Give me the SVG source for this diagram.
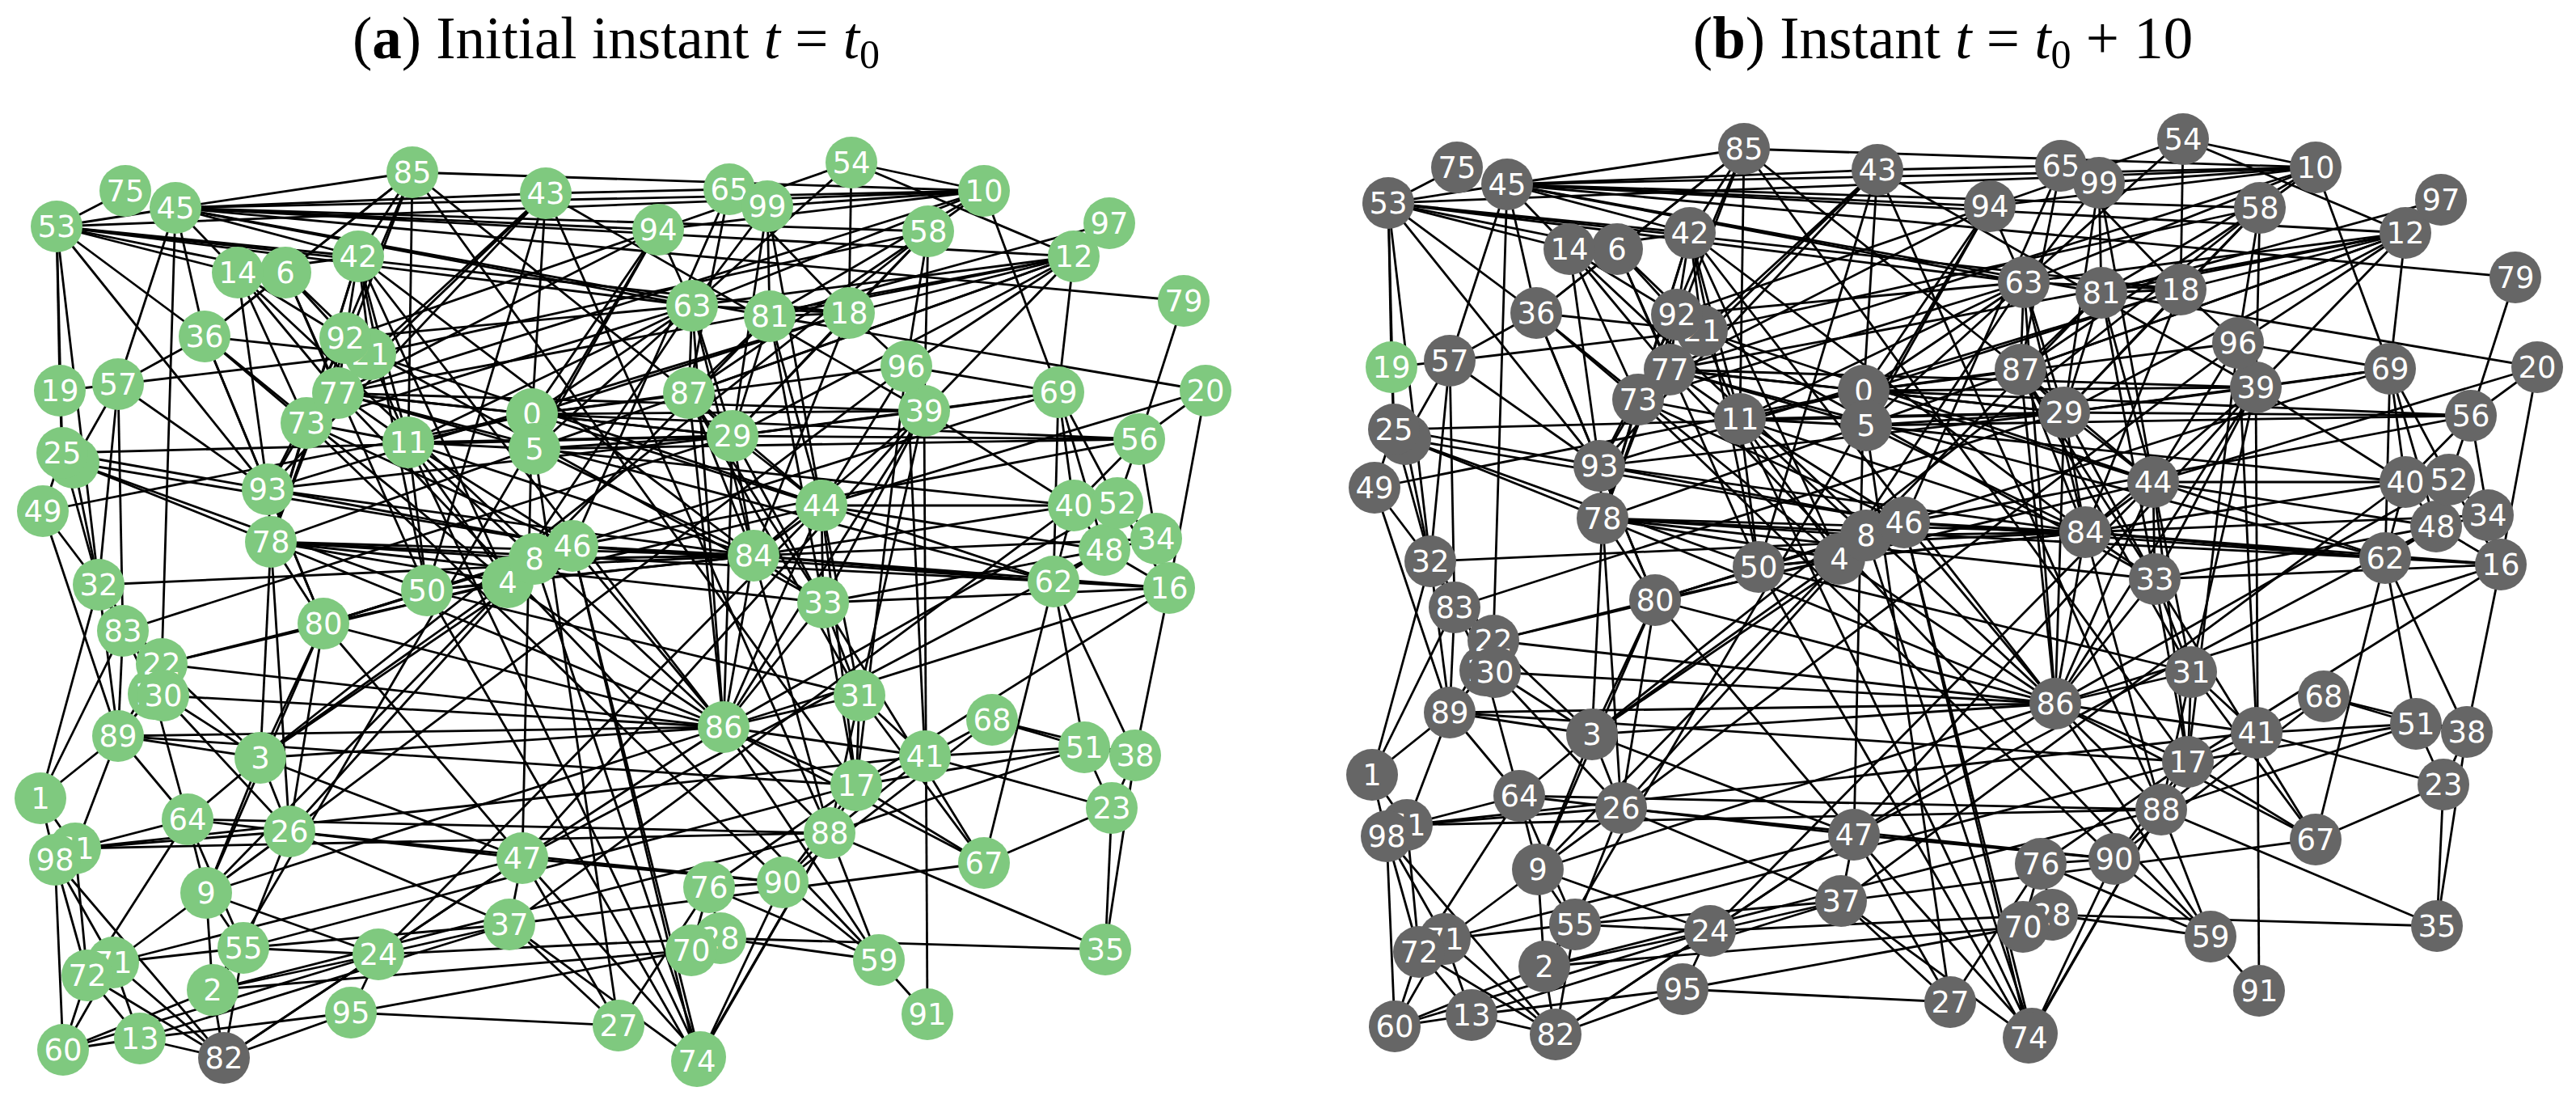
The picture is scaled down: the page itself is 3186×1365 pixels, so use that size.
<svg xmlns="http://www.w3.org/2000/svg" xmlns:xlink="http://www.w3.org/1999/xlink" width="3186" height="1365" viewBox="0 0 3186 1365">
<style>
.ed path{stroke:#000;stroke-width:2.8;fill:none}
#nodes-a circle{fill:#7fc97f}
#nodes-b circle{fill:#666666}
#nodes-a #a82 circle{fill:#666666}
#nodes-b #b19 circle{fill:#7fc97f}
.nodes text{font-family:"DejaVu Sans",sans-serif;font-size:37px;fill:#ffffff;text-anchor:middle}
.title{font-family:"Liberation Serif","Times New Roman",serif;font-size:73px;fill:#000;text-anchor:middle}
</style>
<rect width="3186" height="1365" fill="#ffffff"/>
<text class="title" x="762" y="72">(<tspan font-weight="bold">a</tspan>) Initial instant <tspan font-style="italic">t</tspan> = <tspan font-style="italic">t</tspan><tspan font-size="50" dy="12">0</tspan></text>
<text class="title" x="2403" y="72">(<tspan font-weight="bold">b</tspan>) Instant <tspan font-style="italic">t</tspan> = <tspan font-style="italic">t</tspan><tspan font-size="50" dy="12">0</tspan><tspan dy="-12"> + 10</tspan></text>
<g id="panel-a">
<g id="edges-a" class="ed">
<path d="M70 280L74 483"/><path d="M70 280L217 257"/><path d="M70 280L155 236"/><path d="M70 280L294 337"/><path d="M70 280L331 605"/><path d="M70 280L122 723"/><path d="M70 280L856 378"/><path d="M70 280L1050 387"/><path d="M70 280L1217 236"/><path d="M70 280L253 416"/><path d="M70 280L443 317"/><path d="M70 280L353 337"/><path d="M70 280L77 560"/>
<path d="M217 257L510 213"/><path d="M217 257L200 821"/><path d="M217 257L146 475"/><path d="M217 257L952 391"/><path d="M217 257L1148 286"/><path d="M217 257L294 337"/><path d="M217 257L1328 317"/><path d="M217 257L675 239"/><path d="M217 257L253 416"/><path d="M217 257L814 284"/><path d="M217 257L443 317"/><path d="M217 257L856 378"/><path d="M217 257L1464 372"/><path d="M217 257L1217 236"/>
<path d="M510 213L505 547"/><path d="M510 213L353 337"/><path d="M510 213L443 317"/><path d="M510 213L852 486"/><path d="M510 213L335 670"/><path d="M510 213L253 416"/><path d="M510 213L379 523"/><path d="M510 213L1059 971"/><path d="M510 213L1217 236"/>
<path d="M675 239L902 234"/><path d="M675 239L331 605"/><path d="M675 239L458 438"/><path d="M675 239L528 730"/><path d="M675 239L658 512"/><path d="M675 239L379 523"/><path d="M675 239L1143 508"/><path d="M675 239L1026 1030"/>
<path d="M902 234L949 255"/><path d="M902 234L852 486"/><path d="M902 234L1050 387"/><path d="M902 234L708 675"/>
<path d="M949 255L1217 236"/><path d="M949 255L906 539"/><path d="M949 255L952 391"/><path d="M949 255L856 378"/><path d="M949 255L1016 625"/>
<path d="M1053 201L1050 387"/><path d="M1053 201L1328 317"/><path d="M1053 201L1217 236"/><path d="M1053 201L856 378"/><path d="M1053 201L814 284"/>
<path d="M1217 236L1309 485"/><path d="M1217 236L1148 286"/><path d="M1217 236L856 378"/><path d="M1217 236L952 391"/><path d="M1217 236L814 284"/><path d="M1217 236L418 486"/>
<path d="M1148 286L1121 453"/><path d="M1148 286L1050 387"/><path d="M1148 286L1143 508"/><path d="M1148 286L458 438"/><path d="M1148 286L852 486"/><path d="M1148 286L906 539"/><path d="M1148 286L322 937"/>
<path d="M1328 317L1309 485"/><path d="M1328 317L1050 387"/><path d="M1328 317L856 378"/><path d="M1328 317L952 391"/><path d="M1328 317L1121 453"/><path d="M1328 317L1143 508"/><path d="M1328 317L852 486"/><path d="M1328 317L418 486"/><path d="M1328 317L906 539"/><path d="M1328 317L335 670"/>
<path d="M1372 276L952 391"/><path d="M1464 372L1409 543"/>
<path d="M1491 483L1409 543"/><path d="M1491 483L1446 727"/><path d="M1491 483L1016 625"/><path d="M1491 483L952 391"/>
<path d="M1050 387L856 378"/><path d="M1050 387L952 391"/><path d="M1050 387L1121 453"/><path d="M1050 387L906 539"/><path d="M1050 387L932 687"/><path d="M1050 387L658 512"/><path d="M1050 387L331 605"/>
<path d="M856 378L852 486"/><path d="M856 378L906 539"/><path d="M856 378L658 512"/><path d="M856 378L661 555"/><path d="M856 378L505 547"/><path d="M856 378L427 418"/><path d="M856 378L379 523"/><path d="M856 378L814 284"/><path d="M856 378L932 687"/><path d="M856 378L628 720"/><path d="M856 378L895 899"/>
<path d="M952 391L906 539"/><path d="M952 391L852 486"/><path d="M952 391L1016 625"/><path d="M952 391L1018 745"/><path d="M952 391L255 1104"/>
<path d="M814 284L658 512"/><path d="M814 284L418 486"/><path d="M814 284L427 418"/><path d="M814 284L661 555"/><path d="M814 284L263 1224"/>
<path d="M443 317L458 438"/><path d="M443 317L427 418"/><path d="M443 317L379 523"/><path d="M443 317L505 547"/><path d="M443 317L335 670"/><path d="M443 317L528 730"/><path d="M443 317L628 720"/><path d="M443 317L932 687"/><path d="M443 317L294 337"/><path d="M443 317L895 899"/>
<path d="M353 337L427 418"/><path d="M353 337L458 438"/><path d="M353 337L418 486"/><path d="M353 337L294 337"/><path d="M353 337L253 416"/><path d="M353 337L528 730"/>
<path d="M294 337L427 418"/><path d="M294 337L418 486"/><path d="M294 337L379 523"/><path d="M294 337L331 605"/><path d="M294 337L895 899"/>
<path d="M253 416L146 475"/><path d="M253 416L331 605"/><path d="M253 416L379 523"/><path d="M253 416L458 438"/><path d="M253 416L400 771"/><path d="M253 416L628 720"/>
<path d="M427 418L418 486"/><path d="M427 418L458 438"/><path d="M427 418L331 605"/><path d="M427 418L335 670"/><path d="M427 418L1018 745"/>
<path d="M458 438L505 547"/><path d="M458 438L418 486"/><path d="M458 438L1303 719"/>
<path d="M418 486L379 523"/><path d="M418 486L505 547"/><path d="M418 486L906 539"/><path d="M418 486L658 512"/><path d="M418 486L661 555"/><path d="M418 486L1143 508"/><path d="M418 486L1303 719"/><path d="M418 486L1087 1187"/>
<path d="M379 523L331 605"/><path d="M379 523L335 670"/><path d="M379 523L505 547"/><path d="M379 523L708 675"/><path d="M379 523L968 1091"/>
<path d="M505 547L661 555"/><path d="M505 547L658 512"/><path d="M505 547L906 539"/><path d="M505 547L932 687"/><path d="M505 547L708 675"/><path d="M505 547L661 691"/><path d="M505 547L528 730"/><path d="M505 547L628 720"/><path d="M505 547L866 1307"/>
<path d="M74 483L77 560"/><path d="M74 483L146 475"/>
<path d="M146 475L122 723"/><path d="M146 475L331 605"/><path d="M146 475L458 438"/><path d="M146 475L91 572"/><path d="M146 475L152 780"/>
<path d="M77 560L53 632"/><path d="M77 560L122 723"/><path d="M77 560L906 539"/><path d="M77 560L331 605"/>
<path d="M91 572L122 723"/><path d="M91 572L335 670"/><path d="M91 572L528 730"/><path d="M91 572L708 675"/>
<path d="M53 632L122 723"/><path d="M53 632L146 910"/><path d="M53 632L658 512"/>
<path d="M331 605L335 670"/><path d="M331 605L400 771"/><path d="M331 605L708 675"/><path d="M331 605L906 539"/><path d="M331 605L932 687"/>
<path d="M335 670L400 771"/><path d="M335 670L322 937"/><path d="M335 670L358 1028"/><path d="M335 670L628 720"/><path d="M335 670L661 691"/><path d="M335 670L932 687"/><path d="M335 670L895 899"/><path d="M335 670L1303 719"/><path d="M335 670L1018 745"/>
<path d="M528 730L661 691"/><path d="M528 730L628 720"/><path d="M528 730L1063 860"/><path d="M528 730L932 687"/><path d="M528 730L862 1312"/>
<path d="M658 512L661 555"/><path d="M658 512L852 486"/><path d="M658 512L906 539"/><path d="M658 512L1143 508"/><path d="M658 512L1121 453"/><path d="M658 512L1409 543"/><path d="M658 512L1016 625"/><path d="M658 512L646 1061"/>
<path d="M661 555L906 539"/><path d="M661 555L1409 543"/><path d="M661 555L932 687"/><path d="M661 555L1328 625"/><path d="M661 555L765 1268"/>
<path d="M852 486L906 539"/><path d="M852 486L932 687"/><path d="M852 486L1016 625"/><path d="M852 486L895 899"/><path d="M852 486L1018 745"/><path d="M852 486L1063 860"/>
<path d="M906 539L1016 625"/><path d="M906 539L932 687"/><path d="M906 539L1018 745"/><path d="M906 539L1309 485"/><path d="M906 539L1143 508"/><path d="M906 539L895 899"/>
<path d="M1121 453L1143 508"/><path d="M1121 453L1309 485"/><path d="M1121 453L1059 971"/><path d="M1121 453L1144 935"/><path d="M1121 453L1016 625"/><path d="M1121 453L358 1028"/>
<path d="M1143 508L1309 485"/><path d="M1143 508L1147 1254"/><path d="M1143 508L1328 625"/><path d="M1143 508L932 687"/><path d="M1143 508L1018 745"/><path d="M1143 508L1063 860"/><path d="M1143 508L895 899"/><path d="M1143 508L646 1061"/>
<path d="M1309 485L1328 625"/><path d="M1309 485L1382 622"/><path d="M1309 485L1366 680"/><path d="M1309 485L1303 719"/><path d="M1309 485L400 771"/>
<path d="M1409 543L1328 625"/><path d="M1409 543L1382 622"/><path d="M1409 543L1430 666"/><path d="M1409 543L906 539"/><path d="M1409 543L708 675"/>
<path d="M1328 625L1382 622"/><path d="M1328 625L1366 680"/><path d="M1328 625L1303 719"/><path d="M1328 625L932 687"/><path d="M1328 625L1016 625"/><path d="M1328 625L630 1143"/>
<path d="M1382 622L1366 680"/><path d="M1382 622L1446 727"/><path d="M1382 622L1430 666"/><path d="M1382 622L895 899"/>
<path d="M1430 666L1366 680"/><path d="M1430 666L1446 727"/><path d="M1430 666L932 687"/>
<path d="M1366 680L1303 719"/><path d="M1366 680L1446 727"/><path d="M1366 680L1016 625"/><path d="M1366 680L1018 745"/><path d="M1366 680L646 1061"/>
<path d="M1446 727L1303 719"/><path d="M1446 727L1404 934"/><path d="M1446 727L932 687"/><path d="M1446 727L895 899"/><path d="M1446 727L1059 971"/><path d="M1446 727L1018 745"/>
<path d="M1303 719L1404 934"/><path d="M1303 719L1217 1067"/><path d="M1303 719L1341 924"/><path d="M1303 719L932 687"/><path d="M1303 719L708 675"/>
<path d="M1016 625L932 687"/><path d="M1016 625L1018 745"/><path d="M1016 625L895 899"/><path d="M1016 625L1059 971"/><path d="M1016 625L1063 860"/><path d="M1016 625L468 1180"/><path d="M200 821L1016 625"/>
<path d="M932 687L1018 745"/><path d="M932 687L708 675"/><path d="M932 687L661 691"/><path d="M932 687L628 720"/><path d="M932 687L895 899"/><path d="M932 687L1026 1030"/>
<path d="M708 675L661 691"/><path d="M708 675L628 720"/><path d="M708 675L895 899"/><path d="M708 675L400 771"/><path d="M708 675L322 937"/><path d="M708 675L866 1307"/><path d="M708 675L862 1312"/>
<path d="M661 691L628 720"/><path d="M661 691L400 771"/><path d="M661 691L358 1028"/><path d="M661 691L866 1307"/>
<path d="M628 720L400 771"/><path d="M628 720L322 937"/><path d="M628 720L895 899"/>
<path d="M1018 745L1063 860"/><path d="M1018 745L895 899"/><path d="M1018 745L1059 971"/><path d="M1018 745L1217 1067"/>
<path d="M122 723L152 780"/><path d="M122 723L200 821"/><path d="M122 723L202 860"/><path d="M122 723L146 910"/><path d="M122 723L50 987"/><path d="M122 723L932 687"/>
<path d="M152 780L200 821"/><path d="M152 780L190 858"/><path d="M152 780L146 910"/><path d="M152 780L50 987"/><path d="M152 780L906 539"/>
<path d="M200 821L190 858"/><path d="M200 821L146 910"/><path d="M200 821L322 937"/><path d="M200 821L895 899"/><path d="M200 821L400 771"/>
<path d="M190 858L146 910"/><path d="M190 858L232 1013"/>
<path d="M202 860L322 937"/><path d="M202 860L358 1028"/><path d="M202 860L895 899"/>
<path d="M146 910L895 899"/><path d="M146 910L322 937"/><path d="M146 910L232 1013"/><path d="M146 910L50 987"/><path d="M146 910L93 1049"/><path d="M146 910L1059 971"/>
<path d="M400 771L322 937"/><path d="M400 771L358 1028"/><path d="M400 771L255 1104"/><path d="M400 771L895 899"/><path d="M400 771L646 1061"/>
<path d="M322 937L358 1028"/><path d="M322 937L232 1013"/><path d="M322 937L255 1104"/><path d="M322 937L646 1061"/><path d="M322 937L895 899"/>
<path d="M50 987L93 1049"/><path d="M50 987L68 1063"/>
<path d="M93 1049L358 1028"/><path d="M93 1049L232 1013"/><path d="M93 1049L1026 1030"/><path d="M93 1049L108 1206"/><path d="M93 1049L1144 935"/>
<path d="M68 1063L78 1298"/><path d="M68 1063L140 1190"/><path d="M68 1063L108 1206"/><path d="M68 1063L277 1308"/>
<path d="M232 1013L358 1028"/><path d="M232 1013L255 1104"/><path d="M232 1013L108 1206"/><path d="M232 1013L301 1172"/><path d="M232 1013L1026 1030"/>
<path d="M358 1028L255 1104"/><path d="M358 1028L301 1172"/><path d="M358 1028L646 1061"/><path d="M358 1028L630 1143"/><path d="M358 1028L968 1091"/>
<path d="M255 1104L301 1172"/><path d="M255 1104L263 1224"/><path d="M255 1104L140 1190"/><path d="M255 1104L468 1180"/><path d="M255 1104L895 899"/>
<path d="M895 899L1059 971"/><path d="M895 899L1063 860"/><path d="M895 899L1026 1030"/><path d="M895 899L1144 935"/><path d="M895 899L1087 1187"/><path d="M895 899L646 1061"/>
<path d="M1063 860L1059 971"/><path d="M1063 860L1144 935"/><path d="M1063 860L1026 1030"/><path d="M1063 860L1217 1067"/>
<path d="M1144 935L1227 890"/><path d="M1144 935L1341 924"/><path d="M1144 935L1375 999"/><path d="M1144 935L1059 971"/><path d="M1144 935L1026 1030"/>
<path d="M1227 890L1341 924"/><path d="M1227 890L1404 934"/><path d="M1227 890L968 1091"/>
<path d="M1341 924L1404 934"/><path d="M1341 924L1375 999"/><path d="M1341 924L1026 1030"/><path d="M1341 924L1059 971"/>
<path d="M1404 934L1375 999"/><path d="M1404 934L1367 1174"/>
<path d="M1375 999L1217 1067"/><path d="M1375 999L1367 1174"/>
<path d="M1059 971L1026 1030"/><path d="M1059 971L1217 1067"/><path d="M1059 971L968 1091"/><path d="M1059 971L877 1097"/><path d="M1059 971L301 1172"/>
<path d="M1026 1030L1367 1174"/><path d="M1026 1030L968 1091"/><path d="M1026 1030L1087 1187"/><path d="M1026 1030L866 1307"/><path d="M1026 1030L862 1312"/><path d="M1026 1030L263 1224"/>
<path d="M1217 1067L630 1143"/><path d="M1217 1067L895 899"/>
<path d="M968 1091L866 1307"/><path d="M968 1091L1087 1187"/><path d="M968 1091L877 1097"/><path d="M968 1091L646 1061"/>
<path d="M1087 1187L1147 1254"/><path d="M1087 1187L877 1097"/><path d="M1087 1187L891 1160"/>
<path d="M1367 1174L891 1160"/>
<path d="M877 1097L765 1268"/><path d="M877 1097L891 1160"/><path d="M877 1097L855 1175"/>
<path d="M646 1061L765 1268"/><path d="M646 1061L866 1307"/><path d="M646 1061L630 1143"/><path d="M646 1061L468 1180"/><path d="M646 1061L140 1190"/><path d="M646 1061L277 1308"/>
<path d="M630 1143L765 1268"/><path d="M630 1143L862 1312"/><path d="M630 1143L468 1180"/><path d="M630 1143L301 1172"/><path d="M630 1143L173 1284"/>
<path d="M468 1180L434 1252"/><path d="M468 1180L263 1224"/><path d="M468 1180L301 1172"/><path d="M468 1180L277 1308"/><path d="M468 1180L891 1160"/><path d="M468 1180L78 1298"/>
<path d="M301 1172L263 1224"/><path d="M301 1172L140 1190"/><path d="M301 1172L277 1308"/>
<path d="M263 1224L277 1308"/><path d="M263 1224L78 1298"/><path d="M263 1224L855 1175"/>
<path d="M434 1252L277 1308"/><path d="M434 1252L173 1284"/><path d="M434 1252L855 1175"/><path d="M765 1268L434 1252"/>
<path d="M277 1308L140 1190"/><path d="M277 1308L108 1206"/><path d="M277 1308L173 1284"/>
<path d="M140 1190L78 1298"/><path d="M140 1190L173 1284"/><path d="M108 1206L78 1298"/><path d="M108 1206L173 1284"/><path d="M78 1298L173 1284"/>
</g>
<g id="nodes-a" class="nodes">
<g id="a0"><circle cx="658" cy="512" r="32"/><text x="658" y="525">0</text></g>
<g id="a1"><circle cx="50" cy="987" r="32"/><text x="50" y="1000">1</text></g>
<g id="a2"><circle cx="263" cy="1224" r="32"/><text x="263" y="1237">2</text></g>
<g id="a3"><circle cx="322" cy="937" r="32"/><text x="322" y="950">3</text></g>
<g id="a4"><circle cx="628" cy="720" r="32"/><text x="628" y="733">4</text></g>
<g id="a5"><circle cx="661" cy="555" r="32"/><text x="661" y="568">5</text></g>
<g id="a6"><circle cx="353" cy="337" r="32"/><text x="353" y="350">6</text></g>
<g id="a7"><circle cx="91" cy="572" r="32"/><text x="91" y="585">7</text></g>
<g id="a8"><circle cx="661" cy="691" r="32"/><text x="661" y="704">8</text></g>
<g id="a9"><circle cx="255" cy="1104" r="32"/><text x="255" y="1117">9</text></g>
<g id="a10"><circle cx="1217" cy="236" r="32"/><text x="1217" y="249">10</text></g>
<g id="a11"><circle cx="505" cy="547" r="32"/><text x="505" y="560">11</text></g>
<g id="a12"><circle cx="1328" cy="317" r="32"/><text x="1328" y="330">12</text></g>
<g id="a13"><circle cx="173" cy="1284" r="32"/><text x="173" y="1297">13</text></g>
<g id="a14"><circle cx="294" cy="337" r="32"/><text x="294" y="350">14</text></g>
<g id="a15"><circle cx="190" cy="858" r="32"/><text x="190" y="871">15</text></g>
<g id="a16"><circle cx="1446" cy="727" r="32"/><text x="1446" y="740">16</text></g>
<g id="a17"><circle cx="1059" cy="971" r="32"/><text x="1059" y="984">17</text></g>
<g id="a18"><circle cx="1050" cy="387" r="32"/><text x="1050" y="400">18</text></g>
<g id="a19"><circle cx="74" cy="483" r="32"/><text x="74" y="496">19</text></g>
<g id="a20"><circle cx="1491" cy="483" r="32"/><text x="1491" y="496">20</text></g>
<g id="a21"><circle cx="458" cy="438" r="32"/><text x="458" y="451">21</text></g>
<g id="a22"><circle cx="200" cy="821" r="32"/><text x="200" y="834">22</text></g>
<g id="a23"><circle cx="1375" cy="999" r="32"/><text x="1375" y="1012">23</text></g>
<g id="a24"><circle cx="468" cy="1180" r="32"/><text x="468" y="1193">24</text></g>
<g id="a25"><circle cx="77" cy="560" r="32"/><text x="77" y="573">25</text></g>
<g id="a26"><circle cx="358" cy="1028" r="32"/><text x="358" y="1041">26</text></g>
<g id="a27"><circle cx="765" cy="1268" r="32"/><text x="765" y="1281">27</text></g>
<g id="a28"><circle cx="891" cy="1160" r="32"/><text x="891" y="1173">28</text></g>
<g id="a29"><circle cx="906" cy="539" r="32"/><text x="906" y="552">29</text></g>
<g id="a30"><circle cx="202" cy="860" r="32"/><text x="202" y="873">30</text></g>
<g id="a31"><circle cx="1063" cy="860" r="32"/><text x="1063" y="873">31</text></g>
<g id="a32"><circle cx="122" cy="723" r="32"/><text x="122" y="736">32</text></g>
<g id="a33"><circle cx="1018" cy="745" r="32"/><text x="1018" y="758">33</text></g>
<g id="a34"><circle cx="1430" cy="666" r="32"/><text x="1430" y="679">34</text></g>
<g id="a35"><circle cx="1367" cy="1174" r="32"/><text x="1367" y="1187">35</text></g>
<g id="a36"><circle cx="253" cy="416" r="32"/><text x="253" y="429">36</text></g>
<g id="a37"><circle cx="630" cy="1143" r="32"/><text x="630" y="1156">37</text></g>
<g id="a38"><circle cx="1404" cy="934" r="32"/><text x="1404" y="947">38</text></g>
<g id="a39"><circle cx="1143" cy="508" r="32"/><text x="1143" y="521">39</text></g>
<g id="a40"><circle cx="1328" cy="625" r="32"/><text x="1328" y="638">40</text></g>
<g id="a41"><circle cx="1144" cy="935" r="32"/><text x="1144" y="948">41</text></g>
<g id="a42"><circle cx="443" cy="317" r="32"/><text x="443" y="330">42</text></g>
<g id="a43"><circle cx="675" cy="239" r="32"/><text x="675" y="252">43</text></g>
<g id="a44"><circle cx="1016" cy="625" r="32"/><text x="1016" y="638">44</text></g>
<g id="a45"><circle cx="217" cy="257" r="32"/><text x="217" y="270">45</text></g>
<g id="a46"><circle cx="708" cy="675" r="32"/><text x="708" y="688">46</text></g>
<g id="a47"><circle cx="646" cy="1061" r="32"/><text x="646" y="1074">47</text></g>
<g id="a48"><circle cx="1366" cy="680" r="32"/><text x="1366" y="693">48</text></g>
<g id="a49"><circle cx="53" cy="632" r="32"/><text x="53" y="645">49</text></g>
<g id="a50"><circle cx="528" cy="730" r="32"/><text x="528" y="743">50</text></g>
<g id="a51"><circle cx="1341" cy="924" r="32"/><text x="1341" y="937">51</text></g>
<g id="a52"><circle cx="1382" cy="622" r="32"/><text x="1382" y="635">52</text></g>
<g id="a53"><circle cx="70" cy="280" r="32"/><text x="70" y="293">53</text></g>
<g id="a54"><circle cx="1053" cy="201" r="32"/><text x="1053" y="214">54</text></g>
<g id="a55"><circle cx="301" cy="1172" r="32"/><text x="301" y="1185">55</text></g>
<g id="a56"><circle cx="1409" cy="543" r="32"/><text x="1409" y="556">56</text></g>
<g id="a57"><circle cx="146" cy="475" r="32"/><text x="146" y="488">57</text></g>
<g id="a58"><circle cx="1148" cy="286" r="32"/><text x="1148" y="299">58</text></g>
<g id="a59"><circle cx="1087" cy="1187" r="32"/><text x="1087" y="1200">59</text></g>
<g id="a60"><circle cx="78" cy="1298" r="32"/><text x="78" y="1311">60</text></g>
<g id="a61"><circle cx="93" cy="1049" r="32"/><text x="93" y="1062">61</text></g>
<g id="a62"><circle cx="1303" cy="719" r="32"/><text x="1303" y="732">62</text></g>
<g id="a63"><circle cx="856" cy="378" r="32"/><text x="856" y="391">63</text></g>
<g id="a64"><circle cx="232" cy="1013" r="32"/><text x="232" y="1026">64</text></g>
<g id="a65"><circle cx="902" cy="234" r="32"/><text x="902" y="247">65</text></g>
<g id="a66"><circle cx="866" cy="1307" r="32"/><text x="866" y="1320">66</text></g>
<g id="a67"><circle cx="1217" cy="1067" r="32"/><text x="1217" y="1080">67</text></g>
<g id="a68"><circle cx="1227" cy="890" r="32"/><text x="1227" y="903">68</text></g>
<g id="a69"><circle cx="1309" cy="485" r="32"/><text x="1309" y="498">69</text></g>
<g id="a70"><circle cx="855" cy="1175" r="32"/><text x="855" y="1188">70</text></g>
<g id="a71"><circle cx="140" cy="1190" r="32"/><text x="140" y="1203">71</text></g>
<g id="a72"><circle cx="108" cy="1206" r="32"/><text x="108" y="1219">72</text></g>
<g id="a73"><circle cx="379" cy="523" r="32"/><text x="379" y="536">73</text></g>
<g id="a74"><circle cx="862" cy="1312" r="32"/><text x="862" y="1325">74</text></g>
<g id="a75"><circle cx="155" cy="236" r="32"/><text x="155" y="249">75</text></g>
<g id="a76"><circle cx="877" cy="1097" r="32"/><text x="877" y="1110">76</text></g>
<g id="a77"><circle cx="418" cy="486" r="32"/><text x="418" y="499">77</text></g>
<g id="a78"><circle cx="335" cy="670" r="32"/><text x="335" y="683">78</text></g>
<g id="a79"><circle cx="1464" cy="372" r="32"/><text x="1464" y="385">79</text></g>
<g id="a80"><circle cx="400" cy="771" r="32"/><text x="400" y="784">80</text></g>
<g id="a81"><circle cx="952" cy="391" r="32"/><text x="952" y="404">81</text></g>
<g id="a82"><circle cx="277" cy="1308" r="32"/><text x="277" y="1321">82</text></g>
<g id="a83"><circle cx="152" cy="780" r="32"/><text x="152" y="793">83</text></g>
<g id="a84"><circle cx="932" cy="687" r="32"/><text x="932" y="700">84</text></g>
<g id="a85"><circle cx="510" cy="213" r="32"/><text x="510" y="226">85</text></g>
<g id="a86"><circle cx="895" cy="899" r="32"/><text x="895" y="912">86</text></g>
<g id="a87"><circle cx="852" cy="486" r="32"/><text x="852" y="499">87</text></g>
<g id="a88"><circle cx="1026" cy="1030" r="32"/><text x="1026" y="1043">88</text></g>
<g id="a89"><circle cx="146" cy="910" r="32"/><text x="146" y="923">89</text></g>
<g id="a90"><circle cx="968" cy="1091" r="32"/><text x="968" y="1104">90</text></g>
<g id="a91"><circle cx="1147" cy="1254" r="32"/><text x="1147" y="1267">91</text></g>
<g id="a92"><circle cx="427" cy="418" r="32"/><text x="427" y="431">92</text></g>
<g id="a93"><circle cx="331" cy="605" r="32"/><text x="331" y="618">93</text></g>
<g id="a94"><circle cx="814" cy="284" r="32"/><text x="814" y="297">94</text></g>
<g id="a95"><circle cx="434" cy="1252" r="32"/><text x="434" y="1265">95</text></g>
<g id="a96"><circle cx="1121" cy="453" r="32"/><text x="1121" y="466">96</text></g>
<g id="a97"><circle cx="1372" cy="276" r="32"/><text x="1372" y="289">97</text></g>
<g id="a98"><circle cx="68" cy="1063" r="32"/><text x="68" y="1076">98</text></g>
<g id="a99"><circle cx="949" cy="255" r="32"/><text x="949" y="268">99</text></g>
</g>
</g>
<g id="panel-b" transform="translate(1647,-29)">
<g id="edges-b" class="ed"><use href="#edges-a" xlink:href="#edges-a"/></g>
<g id="nodes-b" class="nodes">
<g id="b0"><circle cx="658" cy="512" r="32"/><text x="658" y="525">0</text></g>
<g id="b1"><circle cx="50" cy="987" r="32"/><text x="50" y="1000">1</text></g>
<g id="b2"><circle cx="263" cy="1224" r="32"/><text x="263" y="1237">2</text></g>
<g id="b3"><circle cx="322" cy="937" r="32"/><text x="322" y="950">3</text></g>
<g id="b4"><circle cx="628" cy="720" r="32"/><text x="628" y="733">4</text></g>
<g id="b5"><circle cx="661" cy="555" r="32"/><text x="661" y="568">5</text></g>
<g id="b6"><circle cx="353" cy="337" r="32"/><text x="353" y="350">6</text></g>
<g id="b7"><circle cx="91" cy="572" r="32"/><text x="91" y="585">7</text></g>
<g id="b8"><circle cx="661" cy="691" r="32"/><text x="661" y="704">8</text></g>
<g id="b9"><circle cx="255" cy="1104" r="32"/><text x="255" y="1117">9</text></g>
<g id="b10"><circle cx="1217" cy="236" r="32"/><text x="1217" y="249">10</text></g>
<g id="b11"><circle cx="505" cy="547" r="32"/><text x="505" y="560">11</text></g>
<g id="b12"><circle cx="1328" cy="317" r="32"/><text x="1328" y="330">12</text></g>
<g id="b13"><circle cx="173" cy="1284" r="32"/><text x="173" y="1297">13</text></g>
<g id="b14"><circle cx="294" cy="337" r="32"/><text x="294" y="350">14</text></g>
<g id="b15"><circle cx="190" cy="858" r="32"/><text x="190" y="871">15</text></g>
<g id="b16"><circle cx="1446" cy="727" r="32"/><text x="1446" y="740">16</text></g>
<g id="b17"><circle cx="1059" cy="971" r="32"/><text x="1059" y="984">17</text></g>
<g id="b18"><circle cx="1050" cy="387" r="32"/><text x="1050" y="400">18</text></g>
<g id="b19"><circle cx="74" cy="483" r="32"/><text x="74" y="496">19</text></g>
<g id="b20"><circle cx="1491" cy="483" r="32"/><text x="1491" y="496">20</text></g>
<g id="b21"><circle cx="458" cy="438" r="32"/><text x="458" y="451">21</text></g>
<g id="b22"><circle cx="200" cy="821" r="32"/><text x="200" y="834">22</text></g>
<g id="b23"><circle cx="1375" cy="999" r="32"/><text x="1375" y="1012">23</text></g>
<g id="b24"><circle cx="468" cy="1180" r="32"/><text x="468" y="1193">24</text></g>
<g id="b25"><circle cx="77" cy="560" r="32"/><text x="77" y="573">25</text></g>
<g id="b26"><circle cx="358" cy="1028" r="32"/><text x="358" y="1041">26</text></g>
<g id="b27"><circle cx="765" cy="1268" r="32"/><text x="765" y="1281">27</text></g>
<g id="b28"><circle cx="891" cy="1160" r="32"/><text x="891" y="1173">28</text></g>
<g id="b29"><circle cx="906" cy="539" r="32"/><text x="906" y="552">29</text></g>
<g id="b30"><circle cx="202" cy="860" r="32"/><text x="202" y="873">30</text></g>
<g id="b31"><circle cx="1063" cy="860" r="32"/><text x="1063" y="873">31</text></g>
<g id="b32"><circle cx="122" cy="723" r="32"/><text x="122" y="736">32</text></g>
<g id="b33"><circle cx="1018" cy="745" r="32"/><text x="1018" y="758">33</text></g>
<g id="b34"><circle cx="1430" cy="666" r="32"/><text x="1430" y="679">34</text></g>
<g id="b35"><circle cx="1367" cy="1174" r="32"/><text x="1367" y="1187">35</text></g>
<g id="b36"><circle cx="253" cy="416" r="32"/><text x="253" y="429">36</text></g>
<g id="b37"><circle cx="630" cy="1143" r="32"/><text x="630" y="1156">37</text></g>
<g id="b38"><circle cx="1404" cy="934" r="32"/><text x="1404" y="947">38</text></g>
<g id="b39"><circle cx="1143" cy="508" r="32"/><text x="1143" y="521">39</text></g>
<g id="b40"><circle cx="1328" cy="625" r="32"/><text x="1328" y="638">40</text></g>
<g id="b41"><circle cx="1144" cy="935" r="32"/><text x="1144" y="948">41</text></g>
<g id="b42"><circle cx="443" cy="317" r="32"/><text x="443" y="330">42</text></g>
<g id="b43"><circle cx="675" cy="239" r="32"/><text x="675" y="252">43</text></g>
<g id="b44"><circle cx="1016" cy="625" r="32"/><text x="1016" y="638">44</text></g>
<g id="b45"><circle cx="217" cy="257" r="32"/><text x="217" y="270">45</text></g>
<g id="b46"><circle cx="708" cy="675" r="32"/><text x="708" y="688">46</text></g>
<g id="b47"><circle cx="646" cy="1061" r="32"/><text x="646" y="1074">47</text></g>
<g id="b48"><circle cx="1366" cy="680" r="32"/><text x="1366" y="693">48</text></g>
<g id="b49"><circle cx="53" cy="632" r="32"/><text x="53" y="645">49</text></g>
<g id="b50"><circle cx="528" cy="730" r="32"/><text x="528" y="743">50</text></g>
<g id="b51"><circle cx="1341" cy="924" r="32"/><text x="1341" y="937">51</text></g>
<g id="b52"><circle cx="1382" cy="622" r="32"/><text x="1382" y="635">52</text></g>
<g id="b53"><circle cx="70" cy="280" r="32"/><text x="70" y="293">53</text></g>
<g id="b54"><circle cx="1053" cy="201" r="32"/><text x="1053" y="214">54</text></g>
<g id="b55"><circle cx="301" cy="1172" r="32"/><text x="301" y="1185">55</text></g>
<g id="b56"><circle cx="1409" cy="543" r="32"/><text x="1409" y="556">56</text></g>
<g id="b57"><circle cx="146" cy="475" r="32"/><text x="146" y="488">57</text></g>
<g id="b58"><circle cx="1148" cy="286" r="32"/><text x="1148" y="299">58</text></g>
<g id="b59"><circle cx="1087" cy="1187" r="32"/><text x="1087" y="1200">59</text></g>
<g id="b60"><circle cx="78" cy="1298" r="32"/><text x="78" y="1311">60</text></g>
<g id="b61"><circle cx="93" cy="1049" r="32"/><text x="93" y="1062">61</text></g>
<g id="b62"><circle cx="1303" cy="719" r="32"/><text x="1303" y="732">62</text></g>
<g id="b63"><circle cx="856" cy="378" r="32"/><text x="856" y="391">63</text></g>
<g id="b64"><circle cx="232" cy="1013" r="32"/><text x="232" y="1026">64</text></g>
<g id="b65"><circle cx="902" cy="234" r="32"/><text x="902" y="247">65</text></g>
<g id="b66"><circle cx="866" cy="1307" r="32"/><text x="866" y="1320">66</text></g>
<g id="b67"><circle cx="1217" cy="1067" r="32"/><text x="1217" y="1080">67</text></g>
<g id="b68"><circle cx="1227" cy="890" r="32"/><text x="1227" y="903">68</text></g>
<g id="b69"><circle cx="1309" cy="485" r="32"/><text x="1309" y="498">69</text></g>
<g id="b70"><circle cx="855" cy="1175" r="32"/><text x="855" y="1188">70</text></g>
<g id="b71"><circle cx="140" cy="1190" r="32"/><text x="140" y="1203">71</text></g>
<g id="b72"><circle cx="108" cy="1206" r="32"/><text x="108" y="1219">72</text></g>
<g id="b73"><circle cx="379" cy="523" r="32"/><text x="379" y="536">73</text></g>
<g id="b74"><circle cx="862" cy="1312" r="32"/><text x="862" y="1325">74</text></g>
<g id="b75"><circle cx="155" cy="236" r="32"/><text x="155" y="249">75</text></g>
<g id="b76"><circle cx="877" cy="1097" r="32"/><text x="877" y="1110">76</text></g>
<g id="b77"><circle cx="418" cy="486" r="32"/><text x="418" y="499">77</text></g>
<g id="b78"><circle cx="335" cy="670" r="32"/><text x="335" y="683">78</text></g>
<g id="b79"><circle cx="1464" cy="372" r="32"/><text x="1464" y="385">79</text></g>
<g id="b80"><circle cx="400" cy="771" r="32"/><text x="400" y="784">80</text></g>
<g id="b81"><circle cx="952" cy="391" r="32"/><text x="952" y="404">81</text></g>
<g id="b82"><circle cx="277" cy="1308" r="32"/><text x="277" y="1321">82</text></g>
<g id="b83"><circle cx="152" cy="780" r="32"/><text x="152" y="793">83</text></g>
<g id="b84"><circle cx="932" cy="687" r="32"/><text x="932" y="700">84</text></g>
<g id="b85"><circle cx="510" cy="213" r="32"/><text x="510" y="226">85</text></g>
<g id="b86"><circle cx="895" cy="899" r="32"/><text x="895" y="912">86</text></g>
<g id="b87"><circle cx="852" cy="486" r="32"/><text x="852" y="499">87</text></g>
<g id="b88"><circle cx="1026" cy="1030" r="32"/><text x="1026" y="1043">88</text></g>
<g id="b89"><circle cx="146" cy="910" r="32"/><text x="146" y="923">89</text></g>
<g id="b90"><circle cx="968" cy="1091" r="32"/><text x="968" y="1104">90</text></g>
<g id="b91"><circle cx="1147" cy="1254" r="32"/><text x="1147" y="1267">91</text></g>
<g id="b92"><circle cx="427" cy="418" r="32"/><text x="427" y="431">92</text></g>
<g id="b93"><circle cx="331" cy="605" r="32"/><text x="331" y="618">93</text></g>
<g id="b94"><circle cx="814" cy="284" r="32"/><text x="814" y="297">94</text></g>
<g id="b95"><circle cx="434" cy="1252" r="32"/><text x="434" y="1265">95</text></g>
<g id="b96"><circle cx="1121" cy="453" r="32"/><text x="1121" y="466">96</text></g>
<g id="b97"><circle cx="1372" cy="276" r="32"/><text x="1372" y="289">97</text></g>
<g id="b98"><circle cx="68" cy="1063" r="32"/><text x="68" y="1076">98</text></g>
<g id="b99"><circle cx="949" cy="255" r="32"/><text x="949" y="268">99</text></g>
</g>
</g>
</svg>
